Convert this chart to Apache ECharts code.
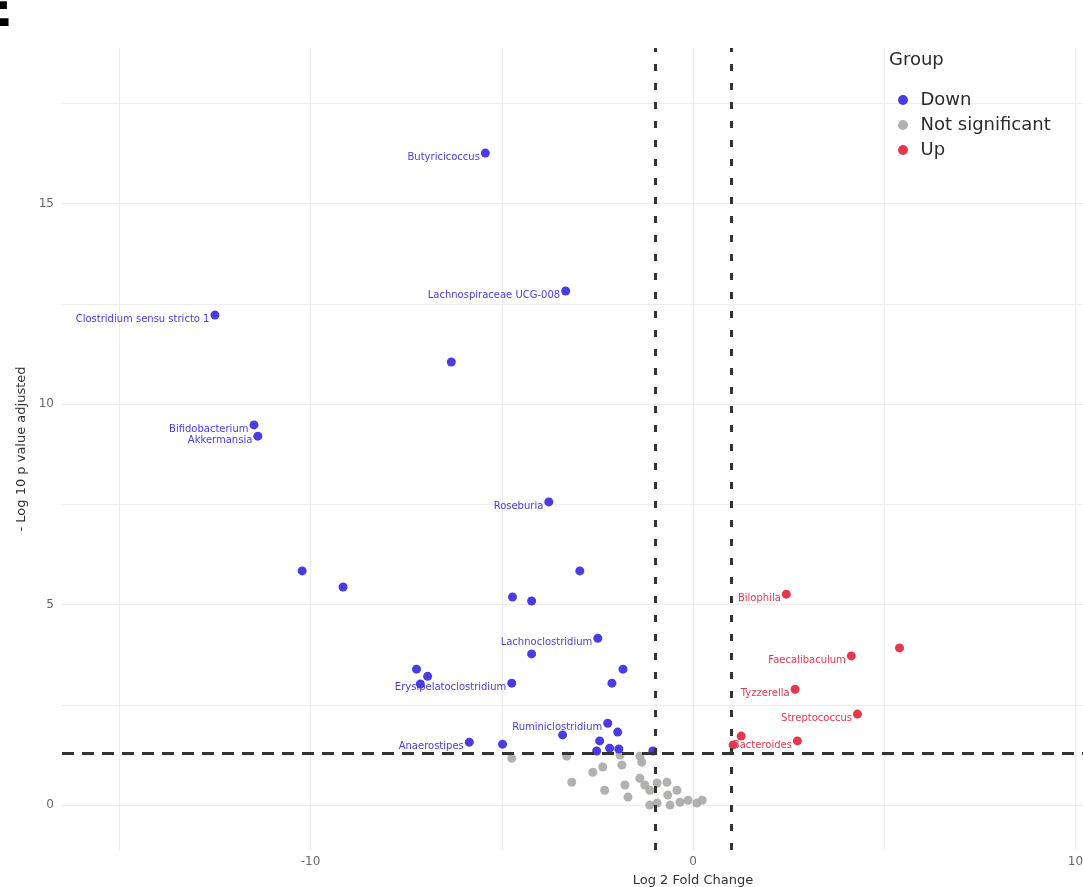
<!DOCTYPE html>
<html>
<head>
<meta charset="utf-8">
<script src="https://cdn.jsdelivr.net/npm/echarts@6/dist/echarts.min.js"></script>
<style>
  html, body { margin: 0; padding: 0; background: #fff; }
  #main { width: 1083px; height: 887px; }
</style>
</head>
<body>
<div id="main"></div>
<script>
var myChart = echarts.init(document.getElementById('main'));

// [log2 fold change, -log10 p adj, label]
var downPoints = [
    [-5.43, 16.26, 'Butyricicoccus'],
    [-3.33, 12.82, 'Lachnospiraceae UCG-008'],
    [-12.50, 12.22, 'Clostridium sensu stricto 1'],
    [-6.32, 11.05, ''],
    [-11.48, 9.48, 'Bifidobacterium'],
    [-11.38, 9.20, 'Akkermansia'],
    [-3.77, 7.56, 'Roseburia'],
    [-10.22, 5.84, ''],
    [-9.15, 5.44, ''],
    [-2.96, 5.84, ''],
    [-4.72, 5.19, ''],
    [-4.22, 5.09, ''],
    [-2.49, 4.16, 'Lachnoclostridium'],
    [-4.22, 3.77, ''],
    [-7.23, 3.39, ''],
    [-6.94, 3.21, ''],
    [-7.13, 3.02, ''],
    [-4.74, 3.04, 'Erysipelatoclostridium'],
    [-1.83, 3.39, ''],
    [-2.12, 3.04, ''],
    [-2.23, 2.04, 'Ruminiclostridium'],
    [-1.97, 1.82, ''],
    [-3.41, 1.75, ''],
    [-2.44, 1.60, ''],
    [-2.52, 1.35, ''],
    [-2.18, 1.42, ''],
    [-1.94, 1.40, ''],
    [-1.05, 1.35, ''],
    [-5.85, 1.57, 'Anaerostipes'],
    [-4.98, 1.52, '']
];
var upPoints = [
    [2.44, 5.26, 'Bilophila'],
    [5.40, 3.92, ''],
    [4.14, 3.72, 'Faecalibaculum'],
    [2.67, 2.89, 'Tyzzerella'],
    [4.30, 2.27, 'Streptococcus'],
    [2.73, 1.60, 'Bacteroides'],
    [1.26, 1.72, ''],
    [1.05, 1.50, '']
];
var nsPoints = [
    [-4.74, 1.17], [-3.30, 1.22], [-1.34, 1.07], [-1.86, 1.00], [-2.36, 0.95],
    [-2.62, 0.82], [-3.17, 0.57], [-2.31, 0.37], [-1.78, 0.50], [-1.70, 0.20],
    [-1.39, 0.67], [-1.26, 0.50], [-1.13, 0.37], [-0.94, 0.55], [-0.68, 0.57],
    [-0.66, 0.25], [-0.42, 0.37], [-0.94, 0.05], [-1.13, 0.00], [-0.60, 0.00],
    [-0.34, 0.07], [-0.13, 0.12], [0.10, 0.05], [0.24, 0.12], [-1.91, 1.25],
    [-1.39, 1.22]
];
var groupNames = ['Down', 'Not significant', 'Up'];
var groupColors = ['#4a3be3', '#a9aaa6', '#e5384d'];
var foldCutoffs = [-1, 1];
var pCutoff = 1.3;
var xTicks = [-15, -10, -5, 0, 5, 10, 15];
var xLabels = [-10, 0, 10];
var yTicks = [0, 2.5, 5, 7.5, 10, 12.5, 15, 17.5];
var yLabels = [0, 5, 10, 15];

function toData(list) {
    return list.map(function (p) {
        return { value: [p[0], p[1]], name: p[2] || '' };
    });
}

function pointLabel(color) {
    return {
        show: true,
        position: 'left',
        distance: 1,
        offset: [0, 4],
        formatter: function (param) { return param.name; },
        color: color,
        fontSize: 10,
        fontFamily: 'DejaVu Sans'
    };
}

var option = {
    backgroundColor: '#fff',
    animation: false,
    title: {
        text: 'Group',
        left: 889,
        top: 51,
        padding: 0,
        textStyle: { fontSize: 18, fontWeight: 'normal', color: '#2b2b2b', fontFamily: 'DejaVu Sans' }
    },
    // panel letter, cut off at the top-left corner
    graphic: [{
        type: 'text',
        x: -25,
        y: -16,
        style: {
            text: 'E', x: 0, y: 0, verticalAlign: 'top',
            fontSize: 55, fontWeight: 'bold', fontFamily: 'DejaVu Sans', fill: '#000'
        }
    }],
    legend: {
        data: groupNames,
        orient: 'vertical',
        left: 893,
        top: 85,
        icon: 'circle',
        itemWidth: 25,
        itemHeight: 10,
        itemGap: 5,
        textStyle: { fontSize: 18, color: '#2b2b2b', fontFamily: 'DejaVu Sans', lineHeight: 20 }
    },
    grid: { left: 62, right: -241, top: 48, bottom: 37, outerBoundsMode: 'none', containLabel: false },
    xAxis: {
        type: 'value',
        min: -16.5,
        max: 16.5,
        name: 'Log 2 Fold Change',
        nameLocation: 'middle',
        nameGap: 24,
        nameTextStyle: { fontSize: 13, color: '#333', fontFamily: 'DejaVu Sans' },
        axisLine: { show: false },
        axisTick: { show: false, customValues: xTicks },
        axisLabel: { customValues: xLabels, color: '#666', fontSize: 12, fontFamily: 'DejaVu Sans', margin: 6 },
        splitLine: { show: true, lineStyle: { color: '#ececec', width: 1 } }
    },
    yAxis: {
        type: 'value',
        min: -1.12,
        max: 18.88,
        name: '- Log 10 p value adjusted',
        nameLocation: 'middle',
        nameGap: 28,
        nameTextStyle: { fontSize: 13, color: '#333', fontFamily: 'DejaVu Sans' },
        axisLine: { show: false },
        axisTick: { show: false, customValues: yTicks },
        axisLabel: { customValues: yLabels, color: '#666', fontSize: 12, fontFamily: 'DejaVu Sans', margin: 8 },
        splitLine: { show: true, lineStyle: { color: '#ececec', width: 1 } }
    },
    series: [{
        name: groupNames[0],
        type: 'scatter',
        symbolSize: 9,
        itemStyle: { color: groupColors[0], opacity: 1 },
        label: pointLabel(groupColors[0]),
        data: toData(downPoints),
        z: 3
    }, {
        name: groupNames[1],
        type: 'scatter',
        symbolSize: 9,
        itemStyle: { color: groupColors[1], opacity: 0.9 },
        data: toData(nsPoints),
        markLine: {
            silent: true,
            symbol: 'none',
            label: { show: false },
            data: [
                { xAxis: foldCutoffs[0], lineStyle: { type: [7, 12], width: 3, color: '#333' } },
                { xAxis: foldCutoffs[1], lineStyle: { type: [7, 12], width: 3, color: '#333' } },
                { yAxis: pCutoff, lineStyle: { type: [12, 8], width: 3, color: '#333' } }
            ]
        },
        z: 2
    }, {
        name: groupNames[2],
        type: 'scatter',
        symbolSize: 9,
        itemStyle: { color: groupColors[2], opacity: 1 },
        label: pointLabel(groupColors[2]),
        data: toData(upPoints),
        z: 3
    }]
};

myChart.setOption(option);
</script>
</body>
</html>
